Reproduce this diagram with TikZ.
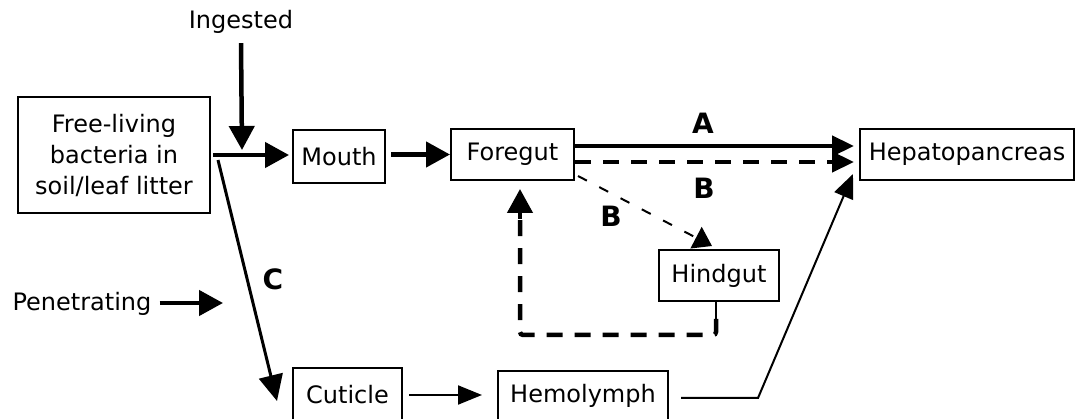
\documentclass[tikz,border=0pt]{standalone}
\usepackage{fontspec}
\setmainfont{DejaVu Sans}
\usetikzlibrary{arrows.meta,calc}
\begin{document}
\begin{tikzpicture}[x=1pt,y=-1pt,
  box/.style={draw,line width=2pt,inner sep=0pt,font=\fontsize{24}{31}\selectfont,align=center},
  lbl/.style={inner sep=0pt,font=\fontsize{24}{31}\selectfont},
  let/.style={inner sep=0pt,font=\fontsize{28}{30}\selectfont\bfseries},
  thickarr/.style={line width=4.5pt,-{Triangle[length=24pt,width=25pt]}},
  thinarr/.style={line width=2pt,-{Triangle[length=24pt,width=19pt]}},
  hdash/.style={line width=4.5pt,dash pattern=on 16pt off 12pt},
  ldash/.style={line width=2pt,dash pattern=on 10pt off 14pt}]
\useasboundingbox (0,0) rectangle (1077,419);
\clip (0,0) rectangle (1077,419);
\fill[white] (0,0) rectangle (1077,419);
% boxes
\node[box,minimum width=192pt,minimum height=116pt] (free) at (114,155) {Free-living\\bacteria in\\soil/leaf litter};
\node[box,minimum width=92pt,minimum height=53pt] (mouth) at (339,156.5) {Mouth};
\node[box,minimum width=123pt,minimum height=51pt] (foregut) at (512.5,154.5) {Foregut};
\node[box,minimum width=214pt,minimum height=51pt] (hepato) at (967,154.5) {Hepatopancreas};
\node[box,minimum width=120pt,minimum height=51pt] (hindgut) at (719,275.5) {Hindgut};
\node[box,minimum width=109pt,minimum height=54pt] (cuticle) at (347.5,395) {Cuticle};
\node[box,minimum width=170pt,minimum height=50pt] (hemolymph) at (583,396) {Hemolymph};
% free labels
\node[lbl,anchor=base] (ingested) at (241,29) {Ingested};
\node[lbl,anchor=base] (penet) at (82,311) {Penetrating};
\coordinate (ingtip) at (242,150);
\coordinate (pentip) at (223,303);
% letters
\node[let] (la) at (703,123) {A};
\node[let] (lb1) at (704,188) {B};
\node[let] (lb2) at (611,216) {B};
\node[let] (lc) at (273,279) {C};
% connectors
\draw[thickarr] ([yshift=-9pt]ingested.south) -- (ingtip);
\draw[thickarr] ([xshift=8pt]penet.east |- pentip) -- (pentip);
\draw[thickarr] ([xshift=2pt]free.east) -- ([xshift=-3pt]free.east -| mouth.west);
\draw[thickarr] ([xshift=5pt,yshift=2pt]mouth.east) -- ([yshift=2pt]mouth.east -| foregut.west);
\draw[line width=4.5pt,-{Triangle[length=22pt,width=20pt]}] ([yshift=8.5pt]foregut.east) -- ([xshift=-5pt,yshift=8.5pt]hepato.west);
\draw[hdash,-{Triangle[length=22pt,width=20pt]}] ([yshift=-7.5pt]foregut.east) -- ([xshift=-5pt,yshift=-7.5pt]hepato.west);
\draw[ldash,-{Triangle[length=18pt,width=24pt]}] ([xshift=3pt,yshift=5pt]foregut.south east) -- ([xshift=-7pt,yshift=3pt]hindgut.north);
\draw[line width=2pt] ([xshift=-3pt]hindgut.south) -- ++(0,17) coordinate (lp);
\draw[hdash,rounded corners=3pt] (lp) -- ++(0,16) -| ([xshift=7.5pt,yshift=-33pt]foregut.south);
\draw[thickarr,-{Triangle[length=24pt,width=25pt]}] ([xshift=7.5pt,yshift=-38pt]foregut.south) -- ([xshift=7.5pt,yshift=-8pt]foregut.south);
\draw[line width=3pt,-{Triangle[length=26pt,width=24pt]}] ([xshift=7pt,yshift=-5pt]free.east) -- ([xshift=-15pt,yshift=-6pt]cuticle.west);
\draw[thinarr] ([xshift=6pt]cuticle.east) -- ([xshift=-15pt]cuticle.east -| hemolymph.west);
\draw[line width=2pt,-{Triangle[length=24pt,width=20pt]}] ([xshift=12pt,yshift=-2pt]hemolymph.east) -- ++(77,0) -- ([xshift=-6pt,yshift=7pt]hepato.south west);
\end{tikzpicture}
\end{document}
